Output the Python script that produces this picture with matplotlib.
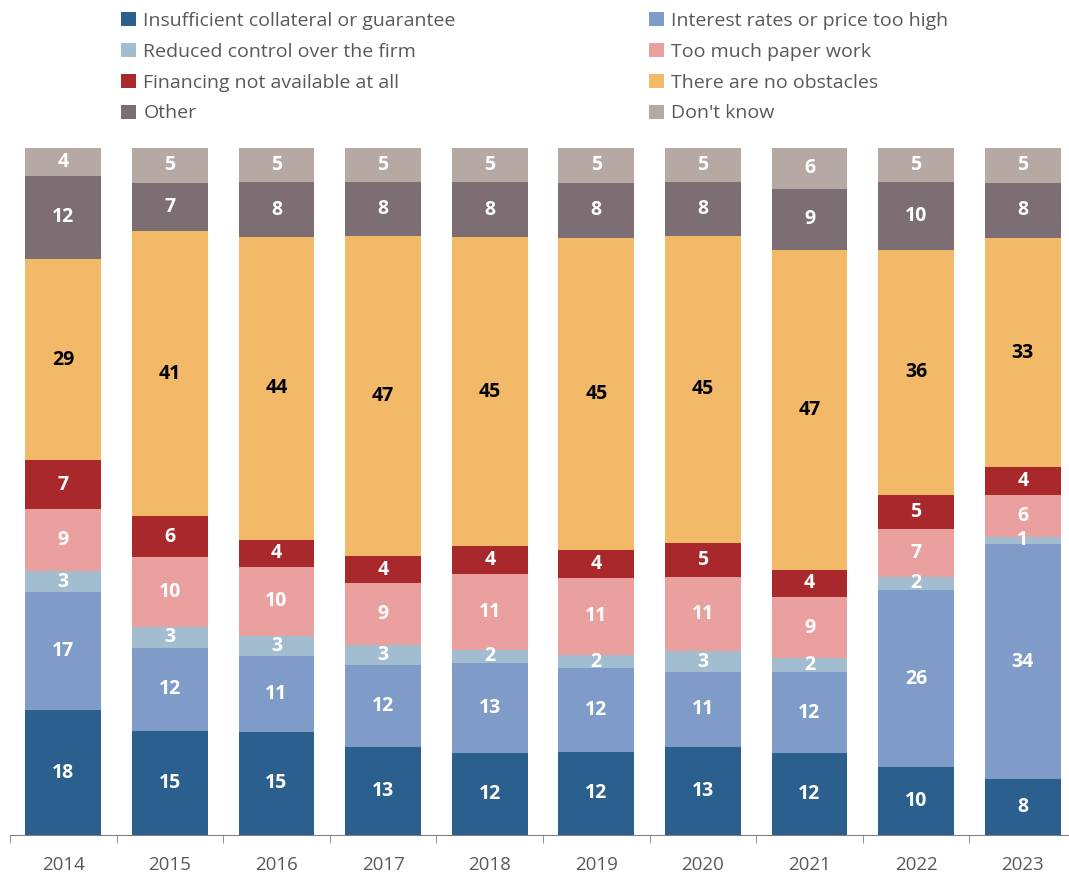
import matplotlib.pyplot as plt
import numpy as np

plt.rcParams['font.family'] = ['Open Sans', 'DejaVu Sans']

years = ['2014', '2015', '2016', '2017', '2018', '2019', '2020', '2021', '2022', '2023']

categories = [
    'Insufficient collateral or guarantee',
    'Interest rates or price too high',
    'Reduced control over the firm',
    'Too much paper work',
    'Financing not available at all',
    'There are no obstacles',
    'Other',
    "Don't know",
]

collateral = [18, 15, 15, 13, 12, 12, 13, 12, 10, 8]
interest = [17, 12, 11, 12, 13, 12, 11, 12, 26, 34]
control = [3, 3, 3, 3, 2, 2, 3, 2, 2, 1]
paperwork = [9, 10, 10, 9, 11, 11, 11, 9, 7, 6]
not_available = [7, 6, 4, 4, 4, 4, 5, 4, 5, 4]
no_obstacles = [29, 41, 44, 47, 45, 45, 45, 47, 36, 33]
other = [12, 7, 8, 8, 8, 8, 8, 9, 10, 8]
dont_know = [4, 5, 5, 5, 5, 5, 5, 6, 5, 5]

series = [collateral, interest, control, paperwork, not_available, no_obstacles, other, dont_know]
colors = ['#2b5f8e', '#7f9cc8', '#a3bdd0', '#eba0a0', '#a8282b', '#f2b968', '#7d6e73', '#b6a9a4']
text_colors = ['white', 'white', 'white', 'white', 'white', 'black', 'white', 'white']

data = np.array(series, dtype=float)
shares = data / data.sum(axis=0) * 100

fig = plt.figure(figsize=(10.69, 8.84), dpi=100)
# axis runs slightly past the right edge, as in the original
ax = fig.add_axes([10 / 1069, 1 - 835 / 884, 1066 / 1069, (835 - 148) / 884])

x = np.arange(len(years))
bottom = np.zeros(len(years))
handles = []
for vals, share, col, tcol, name in zip(data, shares, colors, text_colors, categories):
    bars = ax.bar(x, share, bottom=bottom, width=0.71, color=col, label=name)
    handles.append(bars)
    for xi, v, s, b in zip(x, vals, share, bottom):
        ax.text(xi, b + s / 2, f'{int(v)}', ha='center', va='center',
                color=tcol, fontsize=14, fontweight='bold')
    bottom += share

ax.set_xlim(-0.5, len(years) - 0.5)
ax.set_ylim(0, 100)
ax.set_xticks(x)
ax.set_xticklabels(years, fontsize=13.5, color='#595959')
ax.set_xticks(np.arange(-0.5, len(years), 1), minor=True)
ax.tick_params(axis='x', which='major', length=0, pad=15)
ax.tick_params(axis='x', which='minor', length=6, color='#808080')
ax.set_yticks([])
for s in ['top', 'left', 'right']:
    ax.spines[s].set_visible(False)
ax.spines['bottom'].set_color('#808080')

left_idx = [0, 2, 4, 6]
right_idx = [1, 3, 5, 7]
for idx, xpos in [(left_idx, 121 / 1069), (right_idx, 649 / 1069)]:
    fig.legend([handles[i] for i in idx], [categories[i] for i in idx],
               loc='upper left', bbox_to_anchor=(xpos, 1 - 12 / 884),
               frameon=False, fontsize=14, labelcolor='#595959',
               handlelength=0.75, handleheight=0.75, handletextpad=0.4,
               labelspacing=0.66, borderpad=0, borderaxespad=0)

fig.savefig('out.png', dpi=100)
